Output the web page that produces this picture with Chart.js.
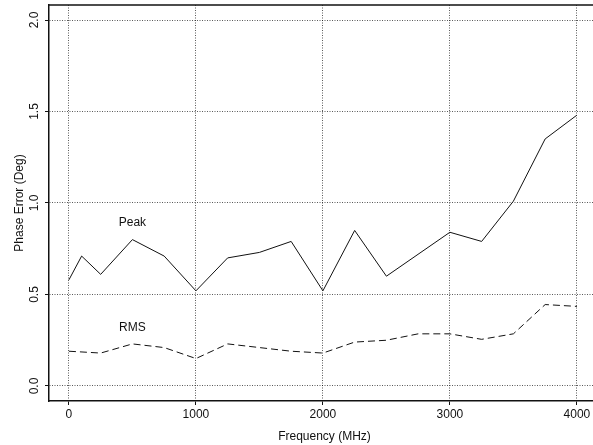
<!DOCTYPE html>
<html>
<head>
<meta charset="utf-8">
<script src="https://cdn.jsdelivr.net/npm/chart.js@4/dist/chart.umd.min.js"></script>
<style>
  html, body { margin: 0; padding: 0; background: #fff; overflow: hidden; }
  #wrap { width: 600px; height: 445px; }
</style>
</head>
<body>
<div id="wrap"><canvas id="myChart"></canvas></div>
<script>
const freqs = [0, 100, 250, 500, 750, 1000, 1250, 1500, 1750, 2000, 2250, 2500, 2750, 3000, 3250, 3500, 3750, 4000];
const peakValues = [0.58, 0.71, 0.61, 0.80, 0.71, 0.52, 0.70, 0.73, 0.79, 0.52, 0.85, 0.60, null, 0.84, 0.79, 1.01, 1.35, 1.48];
const rmsValues = [0.19, null, 0.18, 0.23, 0.21, 0.15, 0.23, 0.21, 0.19, 0.18, 0.24, 0.25, 0.285, 0.285, 0.255, 0.285, 0.445, 0.435];
const xTicks = [0, 1000, 2000, 3000, 4000];
const yTicks = [0.0, 0.5, 1.0, 1.5, 2.0];
const seriesLabels = [
  { name: "Peak", x: 500, y: 0.89 },
  { name: "RMS", x: 500, y: 0.32 },
];

const toPoints = (vals) => freqs.map((f, i) => ({ x: f, y: vals[i] }));

const font = "'Liberation Sans', Arial, sans-serif";
const ink = "#111";

const plotExtras = {
  id: "plotExtras",
  afterDraw: (chart) => {
    const { ctx, chartArea: { top, left, right }, scales: { x, y } } = chart;
    ctx.save();
    // top frame line
    ctx.strokeStyle = ink;
    ctx.lineWidth = 1.5;
    ctx.beginPath();
    ctx.moveTo(left, top);
    ctx.lineTo(right, top);
    ctx.stroke();

    // rotated y tick labels
    ctx.fillStyle = ink;
    ctx.font = "12px " + font;
    ctx.textAlign = "center";
    ctx.textBaseline = "middle";
    yTicks.forEach((v) => {
      ctx.save();
      ctx.translate(35, y.getPixelForValue(v));
      ctx.rotate(-Math.PI / 2);
      ctx.fillText(v.toFixed(1), 0, 0);
      ctx.restore();
    });

    // series names
    seriesLabels.forEach((l) => {
      ctx.fillText(l.name, x.getPixelForValue(l.x), y.getPixelForValue(l.y));
    });
    ctx.restore();
  },
};

const config = {
  type: "line",
  data: {
    datasets: [
      {
        label: "Peak",
        data: toPoints(peakValues),
        borderColor: ink,
        borderWidth: 1,
        pointRadius: 0,
        spanGaps: true,
        tension: 0,
      },
      {
        label: "RMS",
        data: toPoints(rmsValues),
        borderColor: ink,
        borderWidth: 1,
        borderDash: [7, 4],
        pointRadius: 0,
        spanGaps: true,
        tension: 0,
      },
    ],
  },
  options: {
    responsive: true,
    maintainAspectRatio: false,
    animation: false,
    layout: { padding: { top: 5, right: 0, left: 0, bottom: 0 } },
    plugins: {
      legend: { display: false },
      tooltip: { enabled: false },
    },
    scales: {
      x: {
        type: "linear",
        min: -157,
        max: 4182,
        afterBuildTicks: (scale) => {
          scale.ticks = xTicks.map((v) => ({ value: v }));
        },
        afterFit: (scale) => {
          scale.height = 44;
        },
        ticks: {
          color: ink,
          font: { family: font, size: 12 },
          padding: 2,
          maxRotation: 0,
          callback: (v) => String(v),
        },
        grid: {
          color: "rgba(0,0,0,0.65)",
          lineWidth: 1,
          tickLength: 4,
          tickColor: ink,
        },
        border: { color: ink, width: 1.5, dash: [1, 1.5] },
        title: {
          display: true,
          text: "Frequency (MHz)",
          color: ink,
          font: { family: font, size: 12 },
          padding: { top: 0, bottom: 1 },
        },
      },
      y: {
        type: "linear",
        min: -0.082,
        max: 2.082,
        afterBuildTicks: (scale) => {
          scale.ticks = yTicks.map((v) => ({ value: v }));
        },
        afterFit: (scale) => {
          scale.width = 49;
        },
        ticks: { display: false },
        grid: {
          color: "rgba(0,0,0,0.65)",
          lineWidth: 1,
          tickLength: 4,
          tickColor: ink,
        },
        border: { color: ink, width: 1.5, dash: [1, 1.5] },
        title: {
          display: true,
          text: "Phase Error (Deg)",
          color: ink,
          font: { family: font, size: 12 },
          padding: { top: 12, bottom: 0 },
        },
      },
    },
  },
  plugins: [plotExtras],
};

const myChart = new Chart(document.getElementById("myChart"), config);
</script>
</body>
</html>
